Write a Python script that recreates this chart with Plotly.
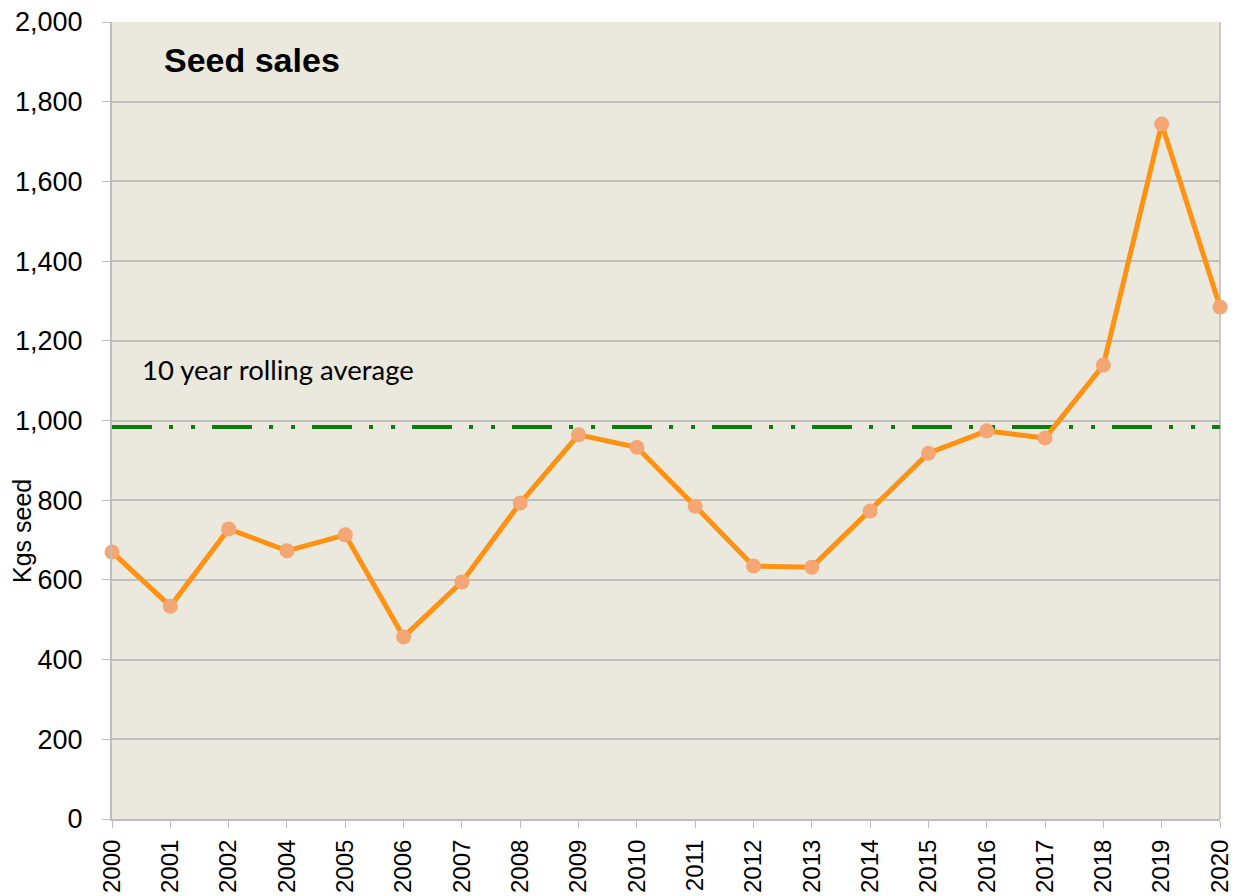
import plotly.graph_objects as go

years = ["2000", "2001", "2002", "2004", "2005", "2006", "2007", "2008", "2009", "2010",
         "2011", "2012", "2013", "2014", "2015", "2016", "2017", "2018", "2019", "2020"]
sales = [670, 534, 728, 673, 713, 457, 595, 793, 964, 933,
         785, 635, 632, 773, 918, 974, 956, 1139, 1744, 1285]
rolling_avg = 984
y_ticks = [0, 200, 400, 600, 800, 1000, 1200, 1400, 1600, 1800, 2000]

W, H = 1250, 896
L, T = 112, 22
R = W - 1220
B = H - 819

fig = go.Figure()
fig.add_trace(go.Scatter(
    x=years, y=[rolling_avg] * len(years), mode="lines",
    line=dict(color="#0a7d0a", width=4, dash="40px,17px,4px,18px,4px,17px"),
    hoverinfo="skip", showlegend=False))
fig.add_trace(go.Scatter(
    x=years, y=sales, mode="lines+markers", cliponaxis=False,
    line=dict(color="#ff9212", width=5),
    marker=dict(color="#f5a675", size=15),
    showlegend=False))

fig.update_layout(
    width=W, height=H,
    margin=dict(l=L, r=R, t=T, b=B, autoexpand=False),
    paper_bgcolor="white", plot_bgcolor="#ebe8dd",
    font=dict(family="Liberation Sans, Arial, sans-serif", color="black"),
    xaxis=dict(type="category", range=[0, len(years) - 1], tickangle=-90,
               tickfont=dict(size=24), showgrid=False, showline=True,
               linecolor="#bdbdbd", linewidth=2, ticks="outside", ticklen=7,
               tickcolor="#bdbdbd", automargin=False, ticklabelstandoff=2,
               ticklabeloverflow="allow"),
    yaxis=dict(range=[0, 2000], tickvals=y_ticks, tickformat=",d",
               tickfont=dict(size=27), showgrid=True, gridcolor="#c0bfbb", gridwidth=1.5,
               showline=True, linecolor="#bdbdbd", linewidth=2, ticks="outside",
               ticklen=8, tickcolor="#bdbdbd", zeroline=False, automargin=False,
               ticklabelstandoff=14, ticklabeloverflow="allow"),
)

pw, ph = W - L - R, H - T - B


def px2paper(px, py):
    return (px - L) / pw, 1 - (py - T) / ph


ann_specs = [
    ("<b>Seed sales</b>", 162, 60, 34, "Liberation Sans, Arial, sans-serif", "left", 0),
    ("10 year rolling average", 140, 369, 27.5, "Lato, sans-serif", "left", 0),
    ("Kgs seed", 22, 531, 25, "Liberation Sans, Arial, sans-serif", "center", -90),
]
anns = []
for text, px, py, size, fam, xanc, ang in ann_specs:
    x, y = px2paper(px, py)
    anns.append(dict(text=text, x=x, y=y, xref="paper", yref="paper", showarrow=False,
                     xanchor=xanc, yanchor="middle", textangle=ang,
                     font=dict(size=size, family=fam, color="black")))
fig.update_layout(annotations=anns)

fig.add_shape(type="line", xref="paper", yref="paper", x0=1, x1=1, y0=0, y1=1,
              line=dict(color="#c8c8c8", width=2), layer="below")

fig.write_html("out.html", config={"displayModeBar": False},
               post_script="document.body.style.margin='0';document.body.style.overflow='hidden';")
